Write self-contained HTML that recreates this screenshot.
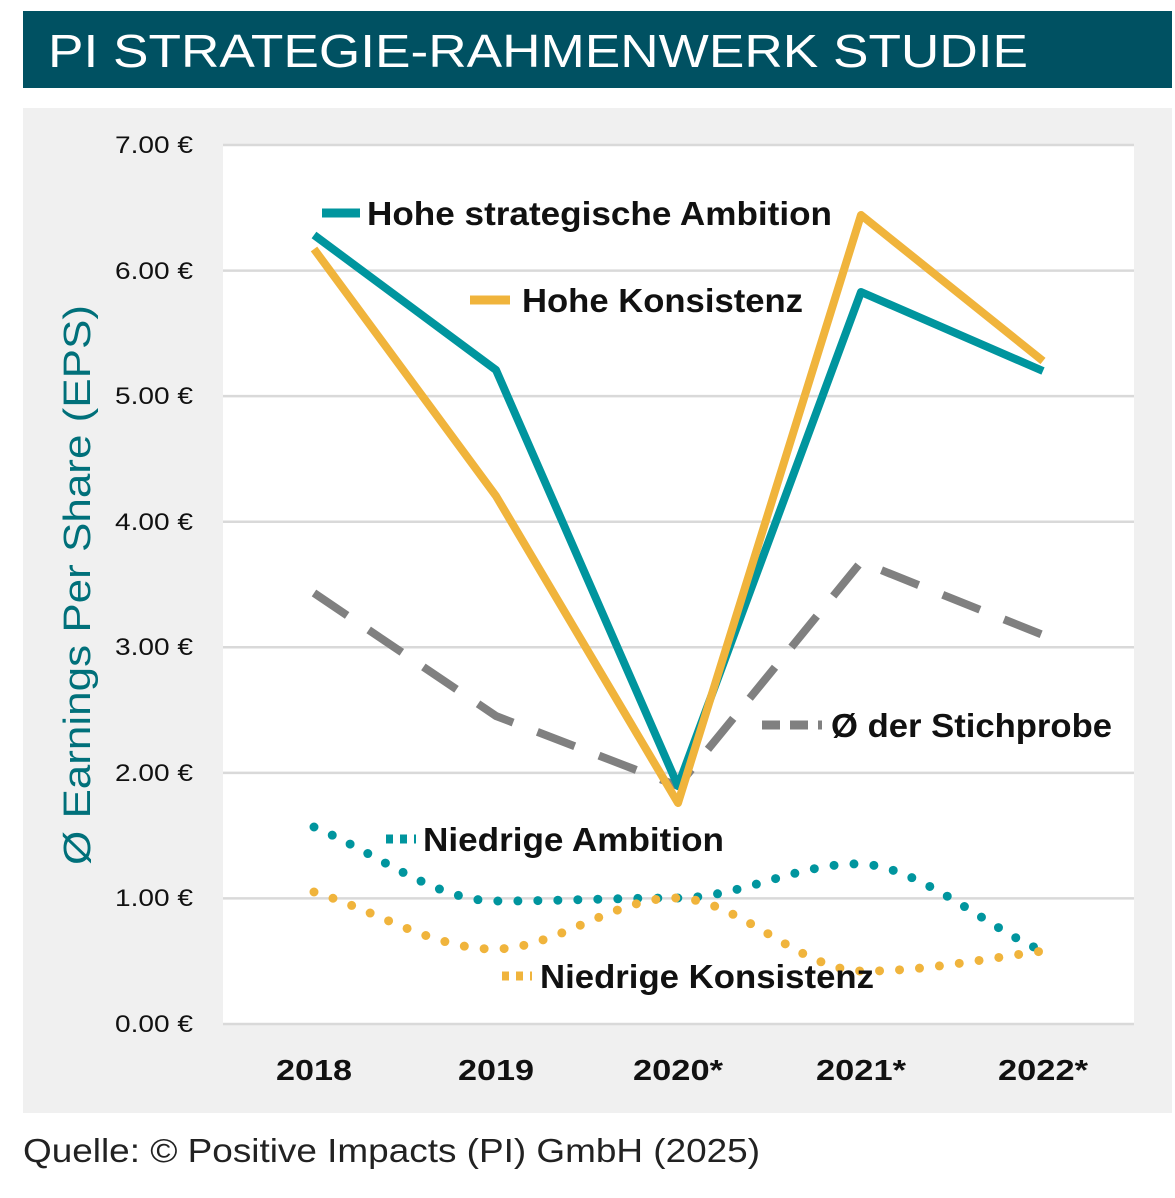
<!DOCTYPE html>
<html><head><meta charset="utf-8"><style>
body{margin:0;background:#fff;width:1175px;height:1193px;overflow:hidden;font-family:"Liberation Sans",sans-serif}
</style></head><body>
<svg width="1175" height="1193" viewBox="0 0 1175 1193" xmlns="http://www.w3.org/2000/svg" font-family="Liberation Sans, sans-serif">
<rect x="23" y="11" width="1149" height="77" fill="#005162"/>
<text x="48" y="67" fill="#fff" font-size="46" textLength="980" lengthAdjust="spacingAndGlyphs">PI STRATEGIE-RAHMENWERK STUDIE</text>
<rect x="23" y="108" width="1149" height="1005" fill="#f0f0f0"/>
<rect x="223" y="145" width="911" height="879" fill="#fff"/>
<g stroke="#d9d9d9" stroke-width="2.5">
<line x1="223" x2="1134" y1="145" y2="145"/><line x1="223" x2="1134" y1="270.6" y2="270.6"/>
<line x1="223" x2="1134" y1="396.1" y2="396.1"/><line x1="223" x2="1134" y1="521.7" y2="521.7"/>
<line x1="223" x2="1134" y1="647.3" y2="647.3"/><line x1="223" x2="1134" y1="772.9" y2="772.9"/>
<line x1="223" x2="1134" y1="898.4" y2="898.4"/><line x1="223" x2="1134" y1="1024" y2="1024"/>
</g>
<g font-size="24" fill="#111" text-anchor="end" lengthAdjust="spacingAndGlyphs">
<text x="193" y="153" textLength="78" lengthAdjust="spacingAndGlyphs">7.00 €</text><text x="193" y="279" textLength="78" lengthAdjust="spacingAndGlyphs">6.00 €</text><text x="193" y="404" textLength="78" lengthAdjust="spacingAndGlyphs">5.00 €</text>
<text x="193" y="530" textLength="78" lengthAdjust="spacingAndGlyphs">4.00 €</text><text x="193" y="655" textLength="78" lengthAdjust="spacingAndGlyphs">3.00 €</text><text x="193" y="781" textLength="78" lengthAdjust="spacingAndGlyphs">2.00 €</text>
<text x="193" y="906" textLength="78" lengthAdjust="spacingAndGlyphs">1.00 €</text><text x="193" y="1032" textLength="78" lengthAdjust="spacingAndGlyphs">0.00 €</text>
</g>
<g font-size="29" font-weight="bold" fill="#111" text-anchor="middle">
<text x="314" y="1080" textLength="76" lengthAdjust="spacingAndGlyphs">2018</text><text x="496" y="1080" textLength="76" lengthAdjust="spacingAndGlyphs">2019</text><text x="678" y="1080" textLength="90" lengthAdjust="spacingAndGlyphs">2020*</text>
<text x="861" y="1080" textLength="90" lengthAdjust="spacingAndGlyphs">2021*</text><text x="1043" y="1080" textLength="90" lengthAdjust="spacingAndGlyphs">2022*</text>
</g>
<text transform="translate(90,585) rotate(-90)" font-size="38" fill="#00707a" text-anchor="middle" textLength="560" lengthAdjust="spacingAndGlyphs">Ø Earnings Per Share (EPS)</text>
<polyline points="314,593 496,716 678,786 861,562 1043,635" fill="none" stroke="#808080" stroke-width="8" stroke-dasharray="40 26"/>
<polyline points="314,235 496,370 678,786 861,292 1043,371" fill="none" stroke="#00959e" stroke-width="8" stroke-linejoin="round"/>
<polyline points="314,249 496,496 678,803 861,215 1043,361" fill="none" stroke="#f0b43c" stroke-width="8" stroke-linejoin="round"/>
<path d="M314,827 C375,852 435,901 496,901 C557,901 617,898 678,898 C740,898 800,862 861,864 C920,866 990,930 1043,951" fill="none" stroke="#00959e" stroke-width="9" stroke-linecap="round" stroke-dasharray="0 20"/>
<path d="M314,892 C375,910 435,950 496,949 C557,948 617,896 678,898 C740,900 800,970 861,971 C920,972 990,958 1043,951" fill="none" stroke="#f0b43c" stroke-width="9" stroke-linecap="round" stroke-dasharray="0 20"/>
<line x1="322" y1="213" x2="360" y2="213" stroke="#00959e" stroke-width="9"/>
<text x="367" y="225" font-size="33" font-weight="bold" fill="#111" textLength="465" lengthAdjust="spacingAndGlyphs">Hohe strategische Ambition</text>
<line x1="470" y1="300" x2="510" y2="300" stroke="#f0b43c" stroke-width="9"/>
<text x="522" y="312" font-size="33" font-weight="bold" fill="#111" textLength="281" lengthAdjust="spacingAndGlyphs">Hohe Konsistenz</text>
<line x1="762" y1="725" x2="822" y2="725" stroke="#808080" stroke-width="9" stroke-dasharray="18 10"/>
<text x="831" y="737" font-size="33" font-weight="bold" fill="#111" textLength="281" lengthAdjust="spacingAndGlyphs">Ø der Stichprobe</text>
<line x1="386" y1="839" x2="416" y2="839" stroke="#00959e" stroke-width="9" stroke-dasharray="7 7"/>
<text x="423" y="851" font-size="33" font-weight="bold" fill="#111" textLength="301" lengthAdjust="spacingAndGlyphs">Niedrige Ambition</text>
<line x1="502" y1="976" x2="532" y2="976" stroke="#f0b43c" stroke-width="9" stroke-dasharray="7 7"/>
<text x="540" y="988" font-size="33" font-weight="bold" fill="#111" textLength="334" lengthAdjust="spacingAndGlyphs">Niedrige Konsistenz</text>
<text x="23" y="1162" font-size="33" fill="#222" textLength="737" lengthAdjust="spacingAndGlyphs">Quelle: © Positive Impacts (PI) GmbH (2025)</text>
</svg>
</body></html>
